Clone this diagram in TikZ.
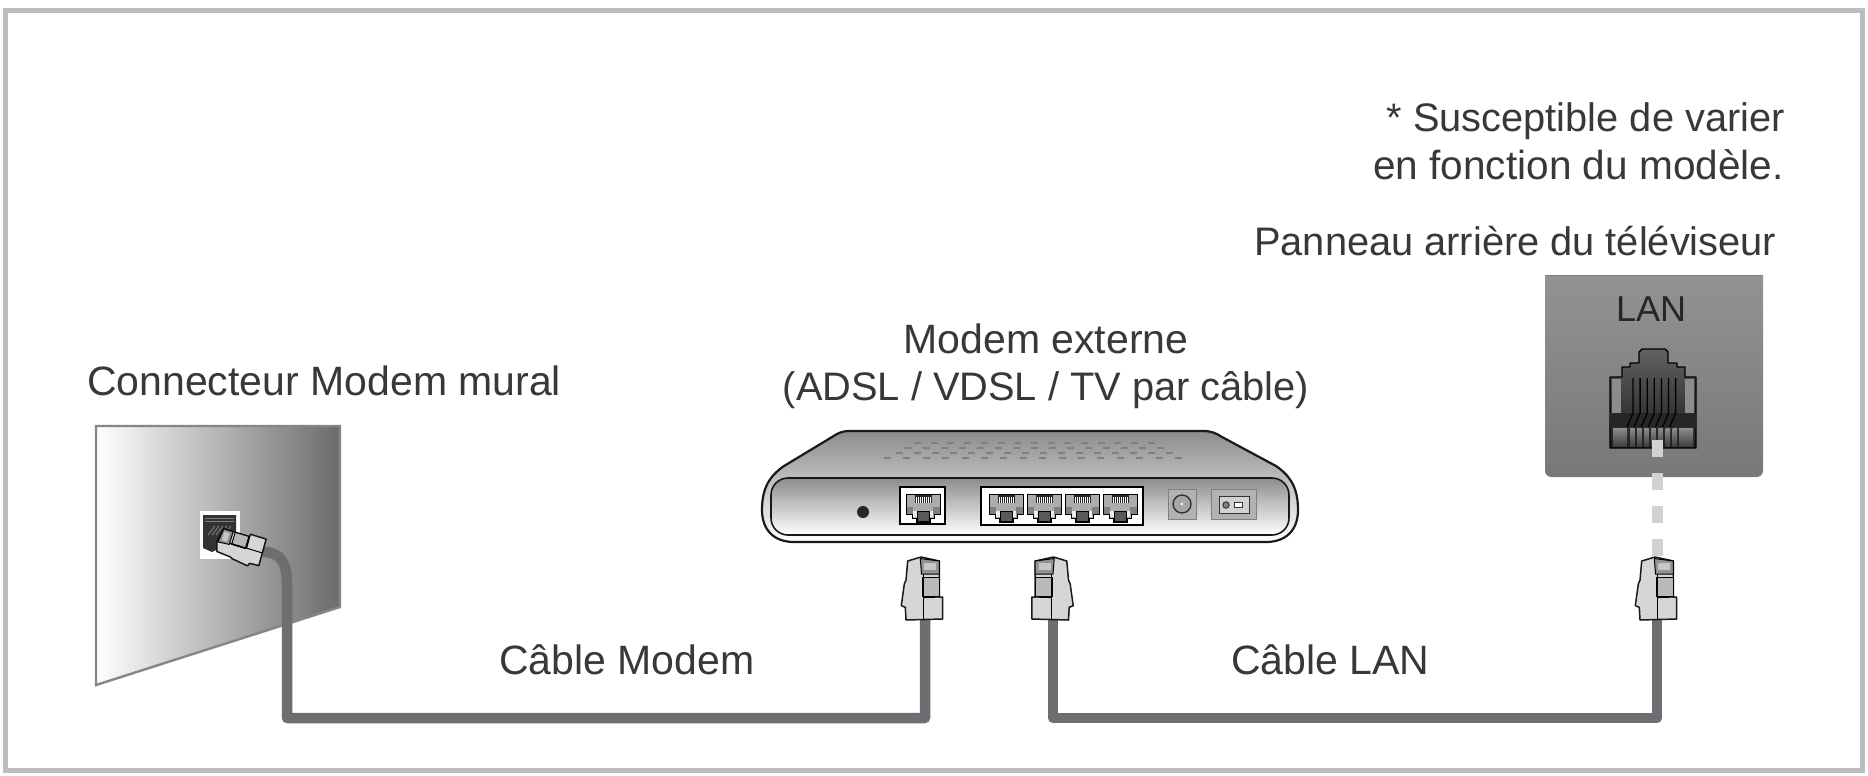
\documentclass[tikz,border=0pt]{standalone}
\usepackage{tikz}
\usepackage{color}
\usepackage{fontspec}
\setmainfont{Liberation Sans}
\definecolor{framegray}{HTML}{BCBCBE}
\definecolor{cablegray}{HTML}{6D6E71}
\definecolor{dashgray}{HTML}{D2D2D4}
\definecolor{inkgray}{HTML}{38383A}
\definecolor{plugfill}{HTML}{D6D6D8}
\begin{document}
\begin{tikzpicture}[%
      x=1pt,y=-1pt,
      cable/.style={color=cablegray, line width=10.5pt, line join=round},
      labeltext/.style={color=inkgray, inner sep=0pt, font=\fontsize{41}{46}\selectfont},
      labelsmall/.style={color=inkgray, inner sep=0pt, font=\fontsize{39.8}{46}\selectfont},
      vent/.style={color=black!50, line width=1.7pt},
      portbox/.style={draw=black, fill=white, line width=1.8pt},
      rjplug/.pic={
        \fill [color=plugfill, draw=black!90, line width=1.5pt, line join=round]
          (-17.3,-59) -- (-4,-63) -- (14.3,-59) -- (14.3,-23) -- (17.7,-23) -- (17.7,-1)
          -- (-19,0) -- (-19.7,-12.7) -- (-23.7,-14.3) -- (-20.7,-36) -- (-19,-40) -- cycle;
        \fill [color=gray!85, draw=black, line width=1pt] (-4.7,-61.5) -- (14.3,-59) -- (14.3,-46) -- (-3.5,-46) -- cycle;
        \fill [color=gray!45] (-1,-57) rectangle (11,-50);
        \fill [color=gray!55, draw=black, line width=1pt] (-2.5,-43) rectangle (14.3,-24);
        \draw [color=black, line width=1.2pt] (-1.5,-22.5) -- (14.3,-23);
        \draw [color=black, line width=1pt] (-1.5,-46) -- (-1.5,-0.5);
      },
      modemport/.pic={
        \fill [color=gray!65, draw=black, line width=0.9pt] (0,0) -- (34,0) -- (34,20) -- (28,20) -- (28,24) -- (24,24) -- (24,28)
          -- (10,28) -- (10,24) -- (6,24) -- (6,20) -- (0,20) -- cycle;
        \fill [color=gray] (0.5,13) rectangle (7,19.5);
        \fill [color=gray] (27,13) rectangle (33.5,19.5);
        \fill [color=white!85!gray] (7,17) rectangle (27,23);
        \fill [color=black!65, draw=black, line width=0.6pt] (11,17) rectangle (23,27.5);
        \fill [color=black!85] (9,1) rectangle (26,9);
        \foreach \pn in {0,...,7}
          \draw [color=white, line width=0.5pt] ({10.5+2*\pn},3) -- ({10.5+2*\pn},9);
      },
      ]
      \useasboundingbox (0,0) rectangle (1868,776);
      \fill [color=white] (0,0) rectangle (1868,776);
      \draw [color=framegray, line width=5pt] (5,10.5) rectangle (1862,770);

      % wall
      \shade [left color=white, middle color=gray!50, right color=black!58] (96,426) -- (340,426) -- (340,607) -- (96,685) -- cycle;
      \draw [color=gray!95, line width=2.4pt] (96,426) -- (340,426) -- (340,607) -- (96,685) -- cycle;
      \fill [color=white] (200,511) rectangle (240,559);
      \fill [color=black!80] (203,515) -- (236,515) -- (236,540) -- (212,552) -- (203,548) -- cycle;
      \draw [color=gray, line width=1pt] (205,518) -- (234,518);
      \draw [color=gray, line width=1pt] (205,521) -- (234,521);
      \foreach \hx in {208,212,...,224}
        \draw [color=gray, line width=0.9pt] (\hx,535) -- ++(7,-9);

      % modem
      \shade [top color=gray!90, middle color=black!4, bottom color=white]
        (762,510) .. controls (762,490) and (768,477) .. (784,466) -- (832,437)
        .. controls (838,433) and (842,431) .. (850,431) -- (1203,431)
        .. controls (1211,431) and (1216,433) .. (1222,437) -- (1276,466)
        .. controls (1292,477) and (1298,490) .. (1298,510)
        .. controls (1298,530) and (1286,542) .. (1266,542) -- (794,542)
        .. controls (774,542) and (762,530) .. (762,510) -- cycle;
      \draw [color=black!90, line width=2.2pt]
        (762,510) .. controls (762,490) and (768,477) .. (784,466) -- (832,437)
        .. controls (838,433) and (842,431) .. (850,431) -- (1203,431)
        .. controls (1211,431) and (1216,433) .. (1222,437) -- (1276,466)
        .. controls (1292,477) and (1298,490) .. (1298,510)
        .. controls (1298,530) and (1286,542) .. (1266,542) -- (794,542)
        .. controls (774,542) and (762,530) .. (762,510) -- cycle;
      \shade [top color=gray!90, bottom color=white, rounded corners=17pt] (771,478) rectangle (1289,535);
      \draw [color=black!90, line width=1.6pt, rounded corners=17pt] (771,478) rectangle (1289,535);
      \foreach \vy/\vx/\vn/\vs in {443/914/14/16.7, 448/905/14/18, 453/896/15/18, 458/884/15/19.4}
        \foreach \vi in {0,...,\vn}
          \draw [vent] ({\vx+\vi*\vs},\vy) -- ++(7,0);
      \fill [color=black!85] (863,512) circle (6pt);

      \draw [portbox] (900,487) rectangle (945,524);
      \draw [portbox] (981,487) rectangle (1143,525);
      \pic at (906,494) {modemport};
      \foreach \px in {989,1027,1065,1103}
        \pic at (\px,494) {modemport};

      \fill [color=gray!60, draw=gray, line width=0.8pt] (1168,489) rectangle (1196,519);
      \draw [color=black!80, fill=gray!70, line width=1.4pt] (1182,504) circle (9pt);
      \fill [color=white] (1182,504) circle (1.4pt);
      \fill [color=gray!60, draw=gray, line width=0.8pt] (1211,489) rectangle (1256,519);
      \fill [color=gray!35, draw=black!80, line width=1pt] (1219,496) rectangle (1249,513);
      \draw [color=black!80, fill=gray, line width=1pt] (1226,505) circle (3.2pt);
      \draw [color=black!80, fill=white, line width=0.8pt] (1234,502) rectangle (1242,507);

      % tv panel
      \shade [top color=gray!85, bottom color=black!53] (1545,275) -- (1763,275) -- (1763,470)
        .. controls (1763,475) and (1760,477) .. (1756,477) -- (1552,477)
        .. controls (1548,477) and (1545,475) .. (1545,470) -- cycle;
      \draw [color=gray, line width=0.8pt] (1545,275) -- (1763,275);
      \node [color=black!85, inner sep=0pt, font=\fontsize{36}{40}\selectfont, anchor=base] (lanlabel) at (1651,321) {LAN};
      \shade [top color=black!62, bottom color=black!88, draw=black, line width=1.4pt, line join=round]
        (1610,377) -- (1622,377) -- (1622,367) -- (1630,367) -- (1630,363) -- (1639,363) -- (1639,352)
        -- (1642,349) -- (1665,349) -- (1668,352) -- (1668,363) -- (1677,363) -- (1677,367)
        -- (1685,367) -- (1685,377) -- (1696,377) -- (1696,448) -- (1610,448) -- cycle;
      \fill [color=gray!90] (1612,379) rectangle (1621,413);
      \fill [color=gray!90] (1685,379) rectangle (1694,413);
      \fill [color=black!85] (1610,413) rectangle (1696,427);
      \foreach \pn in {0,...,6}
        \draw [color=black, line width=1.3pt] ({1633+7.1*\pn},378) -- ({1633+7.1*\pn},413) -- ++(-6,14);
      \shade [top color=gray!90, bottom color=black!75] (1613,428) rectangle (1627,446);
      \foreach \pn in {0,...,6}
        \shade [top color=gray!90, bottom color=black!75] ({1630+7.1*\pn},428) rectangle ++(4.5,18);
      \shade [top color=gray!90, bottom color=black!75] (1679,428) rectangle (1693,446);

      % connectors
      \coordinate (wallplugend) at (263,552);
      \coordinate (wallbend) at (287,718);
      \coordinate (modemplugend) at (925,620);
      \coordinate (modembend) at (925,718);
      \coordinate (routerplugend) at (1053,620);
      \coordinate (routerbend) at (1053,718);
      \coordinate (tvplugend) at (1657,620);
      \coordinate (tvbend) at (1657,718);
      \coordinate (tvjack) at (1657,440);
      \coordinate (tvplugtop) at (1657,557);

      \draw [cable] (wallplugend) .. controls (283,552) and (287,566) .. (287,584) -- (wallbend) -- (modembend) -- (modemplugend);
      \draw [cable] (routerplugend) -- (routerbend) -- (tvbend) -- (tvplugend);
      \draw [color=dashgray, line width=11pt, dash pattern=on 17pt off 16pt] (tvjack) -- (tvplugtop);

      \pic at (modemplugend) {rjplug};
      \pic [xscale=-1] at ([xshift=-3.5pt]routerplugend) {rjplug};
      \pic at ([xshift=2pt]tvplugend) {rjplug};
      \pic [rotate=73, scale=0.75] at (wallplugend) {rjplug};

      % labels
      \node [labelsmall, anchor=base east] (notefirst) at (1785,131) {* Susceptible de varier};
      \node [labeltext, font=\fontsize{40.6}{46}\selectfont, anchor=base east] (notesecond) at (1784,179) {en fonction du modèle.};
      \node [labelsmall, anchor=base west] (tvlabel) at (1254,255) {Panneau arrière du téléviseur};
      \node [labeltext, anchor=base] (modemlabel) at (1046,353) {Modem externe};
      \node [labelsmall, anchor=base] (adsllabel) at (1046,400) {(ADSL / VDSL / TV par câble)};
      \node [labeltext, anchor=base west] (walllabel) at (87,395) {Connecteur Modem mural};
      \node [labeltext, anchor=base west] (modemcable) at (499,674) {Câble Modem};
      \node [labeltext, anchor=base west] (lancable) at (1231,674) {Câble LAN};
\end{tikzpicture}
\end{document}
